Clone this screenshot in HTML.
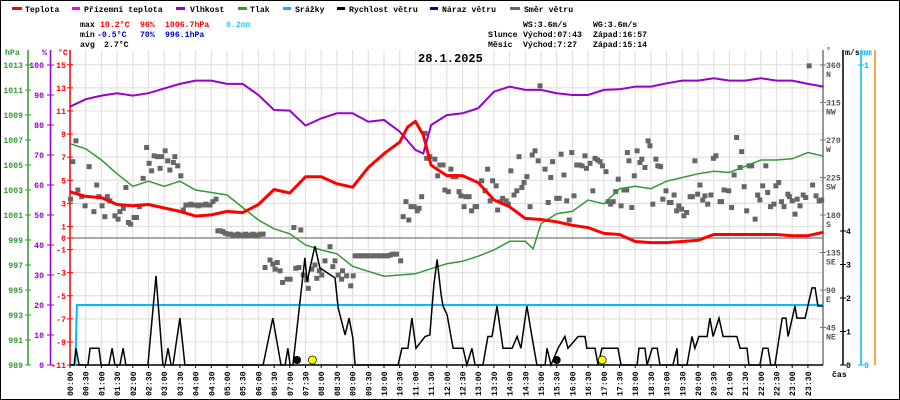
<!DOCTYPE html>
<html><head><meta charset="utf-8">
<style>
html,body{margin:0;padding:0;background:#fff;}
#wrap{position:relative;width:900px;height:400px;overflow:hidden;}
svg{display:block;}
text{font-family:"Liberation Mono",monospace;}
</style></head>
<body>
<div id="wrap">
<svg id="chart" width="900" height="400" viewBox="0 0 900 400" xmlns="http://www.w3.org/2000/svg">
  <rect x="0.5" y="0.5" width="899" height="399" fill="#fff" stroke="#000"/>
  <g id="grid"></g>
  <g id="axes"></g>
  <g id="series"></g>
  <g id="legend" font-size="8.2" font-weight="bold">
    <rect x="12" y="7" width="10" height="3" fill="#f00"/>
    <text x="25" y="12">Teplota</text>
    <rect x="72" y="7" width="8" height="3" fill="#f0f"/>
    <text x="84" y="12">Přízemní teplota</text>
    <rect x="176" y="7" width="9" height="3" fill="#90c"/>
    <text x="190" y="12">Vlhkost</text>
    <rect x="238" y="7" width="9" height="3" fill="#393"/>
    <text x="250" y="12">Tlak</text>
    <rect x="283" y="7" width="8" height="3" fill="#0bf"/>
    <text x="295" y="12">Srážky</text>
    <rect x="337" y="7" width="8" height="3" fill="#000"/>
    <text x="349" y="12">Rychlost větru</text>
    <rect x="430" y="7" width="8" height="3" fill="#00c"/>
    <text x="442" y="12">Náraz větru</text>
    <rect x="510" y="7" width="10" height="3" fill="#666"/>
    <text x="524" y="12">Směr větru</text>
  </g>
  <g id="stats" font-size="8.2" font-weight="bold">
    <text x="80" y="27">max</text>
    <text x="100" y="27" fill="#f00">10.2°C</text>
    <text x="140" y="27" fill="#f00">96%</text>
    <text x="165" y="27" fill="#f00">1006.7hPa</text>
    <text x="226" y="27" fill="#3cf">0.2mm</text>
    <text x="80" y="37">min</text>
    <text x="97" y="37" fill="#00c">-0.5°C</text>
    <text x="140" y="37" fill="#00c">70%</text>
    <text x="165" y="37" fill="#00c">996.1hPa</text>
    <text x="80" y="47">avg</text>
    <text x="104" y="47">2.7°C</text>
    <text x="523" y="27">WS:3.6m/s</text>
    <text x="593" y="27">WG:3.6m/s</text>
    <text x="488" y="37">Slunce</text>
    <text x="523" y="37">Východ:07:43</text>
    <text x="593" y="37">Západ:16:57</text>
    <text x="488" y="47">Měsíc</text>
    <text x="523" y="47">Východ:7:27</text>
    <text x="593" y="47">Západ:15:14</text>
  </g>
  <text x="418" y="62" font-size="12" font-weight="bold">28.1.2025</text>
</svg>
</div>
<script>
// ---- data ----
var hourTicks = ["00:00","00:30","01:00","01:30","02:00","02:30","03:00","03:30","04:00","04:30","05:00","05:30","06:00","06:30","07:00","07:30","08:00","08:30","09:00","09:30","10:00","10:30","11:00","11:30","12:00","12:30","13:00","13:30","14:00","14:30","15:00","15:30","16:00","16:30","17:00","17:30","18:00","18:30","19:00","19:30","20:00","20:30","21:00","21:30","22:00","22:30","23:00","23:30"];
var tempTicks = [15,13,11,9,7,5,3,1,0,-1,-3,-5,-7,-9,-11];
var humTicks = [100,90,80,70,60,50,40,30,20,10,0];
var pressTicks = [1013,1011,1009,1007,1005,1003,1001,999,997,995,993,991,989];
var dirTicks = [360,315,270,225,180,135,90,45];
var dirNames = ["N","NW","W","SW","S","SE","E","NE"];
var windTicks = [0,1,2,3,4];
var mmTicks = [0,1];

var halfHours = [0,0.5,1,1.5,2,2.5,3,3.5,4,4.5,5,5.5,6,6.5,7,7.5,8,8.5,9,9.5,10,10.5,11,11.5,12,12.5,13,13.5,14,14.5,15,15.5,16,16.5,17,17.5,18,18.5,19,19.5,20,20.5,21,21.5,22,22.5,23,23.5,24];

var tempT = [0,0.5,1,1.5,2,2.5,3,3.5,4,4.5,5,5.5,6,6.5,7,7.5,8,8.5,9,9.5,10,10.5,10.75,11,11.25,11.5,12,12.5,13,13.5,14,14.5,15,15.5,16,16.5,17,17.5,18,18.5,19,19.5,20,20.5,21,21.5,22,22.5,23,23.5,24];
var tempV = [4.0,3.6,3.5,2.9,2.8,2.9,2.6,2.3,1.9,2.0,2.3,2.2,2.9,4.2,3.9,5.3,5.3,4.7,4.4,6.1,7.3,8.3,9.6,10.1,8.9,6.3,5.4,5.4,4.8,3.3,2.7,1.7,1.6,1.4,1.1,0.9,0.4,0.3,-0.3,-0.4,-0.4,-0.3,-0.2,0.3,0.3,0.3,0.3,0.3,0.2,0.2,0.5];

var humT = [0,0.5,1,1.5,2,2.5,3,3.5,4,4.5,5,5.5,6,6.5,7,7.5,8,8.5,9,9.5,10,10.5,11,11.25,11.5,12,12.5,13,13.5,14,14.5,15,15.5,16,16.5,17,17.5,18,18.5,19,19.5,20,20.5,21,21.5,22,22.5,23,23.5,24];
var humV = [86.1,88.6,89.8,90.6,89.8,90.6,92.2,93.7,94.8,94.8,93.7,93.7,90,85,84.8,79.8,82.2,83.9,83.9,81.1,81.7,77.8,71.7,70.5,80,83.3,83.9,85.6,91.1,92.8,91.7,91.7,90.6,90,90,91.7,91.9,92.8,92.8,93.9,94.8,94.8,95.6,94.8,94.8,95.6,94.8,94.8,93.7,92.8];

var pressT = [0,0.5,1,1.5,2,2.5,3,3.5,4,4.5,5,5.5,6,6.5,7,7.5,8,8.5,9,9.5,10,10.5,11,11.5,12,12.5,13,13.5,14,14.5,14.75,15,15.5,16,16.5,17,17.5,18,18.5,19,19.5,20,20.5,21,21.5,22,22.5,23,23.5,24];
var pressV = [1006.7,1006.3,1005.4,1004.3,1003.3,1003.7,1003.3,1003.7,1003.0,1002.8,1002.6,1001.6,1000.6,999.9,999.5,998.6,998.2,997.9,996.9,996.5,996.1,996.2,996.3,996.7,997.1,997.3,997.7,998.2,998.9,998.9,998.3,1000.3,1001.1,1001.3,1002.2,1001.9,1003.1,1003.3,1003.1,1003.7,1004.0,1004.3,1004.5,1004.4,1004.9,1005.4,1005.4,1005.5,1006.0,1005.7];

var precipT = [0,0.17,0.22,24];
var precipV = [0,0,0.2,0.2];

var windT = [0,0.13,0.19,0.29,0.57,0.64,0.92,0.99,1.24,1.34,1.43,1.59,1.69,1.78,2.48,2.74,2.96,3.03,3.12,3.22,3.28,3.5,3.66,6.15,6.46,6.72,6.85,6.94,7.01,7.1,7.48,7.55,7.8,7.96,8.28,8.44,8.54,8.76,8.89,9.01,9.08,10.45,10.57,10.76,10.89,11.02,11.31,11.46,11.59,11.69,11.82,11.88,12.01,12.2,12.52,12.64,12.8,12.9,13.15,13.31,13.44,13.6,13.79,14.08,14.24,14.36,14.55,14.71,14.87,15.13,15.19,15.32,15.54,15.76,15.86,16.18,16.4,16.46,16.72,16.82,16.94,17.45,17.55,18.06,18.12,18.31,18.38,18.54,18.7,18.79,19.2,19.33,19.36,19.65,19.81,19.9,20.03,20.29,20.38,20.48,20.67,20.8,21.24,21.34,21.56,21.62,21.97,22.07,22.23,22.32,22.45,22.68,22.8,22.87,23.09,23.15,23.41,23.63,23.73,23.82,23.98];
var windV = [0,0,0.5,0,0,0.5,0.5,0,0,0.5,0,0,0.5,0,0,2.66,0,0,0.5,0,0,1.4,0,0,1.4,0,0,0.5,0,0,3.2,2.5,3.55,2.9,2.7,2.6,1.7,0.9,1.4,0.8,0,0,0.5,0.5,1.4,0.5,0.85,0.9,2.4,3.15,2.1,1.76,1.5,0.5,0.5,0,0.5,0,0,0.85,0.85,1.76,0.5,0.5,0.85,0.5,1.76,0.85,0,0,0.5,0,0.5,0.85,0.5,0.85,0.85,0.5,0.5,0,0.5,0.5,0,0,0.5,0.5,0,0.5,0.5,0,0,0.5,0,0,0.85,0.5,0.85,0.85,1.4,0.85,1.4,0.85,0.85,0.5,0.5,0,0,0.5,0.5,0,0,1.4,1.4,0.85,1.76,1.4,1.4,2.3,2.3,1.76,1.76];

var dirT = [0.02,0.09,0.19,0.25,0.37,0.48,0.61,0.76,0.85,0.92,1.02,1.11,1.19,1.27,1.43,1.53,1.59,1.70,1.78,1.86,1.93,2.04,2.12,2.21,2.33,2.44,2.52,2.60,2.68,2.79,2.87,2.92,3.03,3.11,3.18,3.29,3.34,3.43,3.53,3.61,
3.69,3.77,3.85,3.93,4.01,4.09,4.17,4.25,4.33,4.41,4.46,4.55,4.65,
4.71,4.79,4.87,4.95,5.03,5.11,5.19,5.27,5.35,5.43,5.51,5.59,5.67,5.75,5.83,5.91,5.99,6.07,6.15,
6.21,6.37,6.46,6.53,6.60,6.69,6.77,6.91,7.01,7.13,7.19,7.29,7.35,7.43,7.54,7.59,7.70,7.80,7.86,7.94,8.02,8.12,8.28,8.37,8.44,8.54,8.65,8.68,8.81,8.94,9.02,
9.08,9.16,9.24,9.32,9.40,9.48,9.56,9.64,9.72,9.80,9.88,9.96,10.04,10.12,10.20,10.28,10.40,10.53,
10.61,10.70,10.79,10.86,10.96,11.06,11.12,11.20,11.31,11.36,11.46,11.62,11.71,11.78,11.88,11.94,12.05,12.13,12.20,12.29,12.39,12.45,12.55,12.61,12.71,12.79,12.90,12.95,13.11,13.22,13.30,13.38,13.46,13.57,13.62,13.72,13.78,13.89,13.96,14.04,14.14,14.23,14.30,14.39,14.46,14.55,14.65,14.72,14.81,14.91,14.97,15.13,15.23,15.31,15.37,15.50,15.58,15.64,15.73,15.82,15.90,
15.98,16.05,16.14,16.22,16.31,16.40,16.45,16.56,16.65,16.72,16.80,16.88,16.96,17.07,17.14,17.22,17.30,17.38,17.46,17.55,17.64,17.73,17.75,17.80,17.89,17.97,18.06,18.15,18.21,18.31,18.41,18.47,18.56,18.66,18.72,18.81,18.88,18.98,19.09,19.14,19.24,19.32,19.39,19.48,19.55,19.64,19.75,19.82,19.90,19.99,20.06,20.15,20.22,20.31,20.41,20.49,20.57,20.70,20.75,20.83,20.98,21.07,21.15,21.23,21.34,21.39,21.47,21.55,21.63,21.71,21.82,21.90,21.97,22.06,22.16,22.22,22.31,22.42,22.48,22.57,22.66,22.74,22.86,22.91,23.00,23.09,23.16,23.25,23.35,23.43,23.54,23.65,23.76,23.86,23.94];
var dirDeg = [199,244,269,210,202,191,238,184,216,202,191,178,202,197,179,175,184,188,213,171,169,177,177,190,224,261,242,233,251,250,236,250,257,245,234,243,250,239,227,186,
192,192,193,192,192,191,192,192,193,192,192,196,199,
161,161,160,158,157,157,156,156,157,156,156,157,156,156,157,156,156,157,157,
117,126,121,115,123,113,99,103,103,165,116,117,162,108,102,92,115,120,104,113,108,125,142,118,125,108,103,113,107,95,107,
131,131,131,131,131,131,131,131,131,131,131,131,131,131,132,133,133,125,
178,196,174,190,190,185,188,202,278,248,250,247,227,240,240,210,208,235,226,226,208,203,190,202,202,185,190,190,221,209,235,197,221,215,186,196,200,197,193,233,204,209,250,213,219,226,190,252,257,245,335,235,195,225,244,200,200,253,228,197,174,
255,203,240,240,239,251,236,242,209,248,246,244,239,232,196,193,196,208,223,191,210,210,255,245,189,227,257,243,247,237,269,263,193,247,239,238,199,209,195,195,204,185,191,187,179,183,202,202,245,205,216,198,203,193,204,248,251,196,196,210,209,189,228,273,237,256,214,185,239,239,175,204,198,215,239,207,190,193,215,219,196,190,205,202,197,181,199,191,204,201,359,216,203,197,198];

var sunMarkers = [7.72,16.95];
var moonMarkers = [7.23,15.5];

// ---- scales ----
function xS(h){ return 70 + h*31.4; }
function yTemp(t){ return 238 - t*11.55; }
function yHum(v){ return 365 - v*3; }
function yPress(p){ return 365 - (p-989)*12.5; }
function yWind(v){ return 365 - v*33.5; }
function yDir(d){ return 365 - d*300/360; }
function yMm(m){ return 365 - m*300; }

var NS = "http://www.w3.org/2000/svg";
function mk(tag, attrs, parent){
  var e = document.createElementNS(NS, tag);
  for (var k in attrs) e.setAttribute(k, attrs[k]);
  parent.appendChild(e);
  return e;
}
var grid = document.getElementById('grid');
var axes = document.getElementById('axes');
var series = document.getElementById('series');

// vertical grid + x labels
hourTicks.forEach(function(lbl, i){
  var x = xS(i*0.5);
  var ln = mk('line', {x1:x, y1:50, x2:x, y2:365, stroke:'#e4e0e0', 'stroke-width':1.2}, grid);
  
  
  var tk = mk('line', {x1:x, y1:365, x2:x, y2:368, stroke:'#000', 'stroke-width':1}, axes);
  
  
  var t = mk('text', {x:0, y:0, 'font-size':'8.2', 'font-weight':'bold', transform:'translate('+(x+3)+',396) rotate(-90)'}, axes);
  t.textContent = lbl;
  
  
});
// horizontal grid + temp labels
tempTicks.forEach(function(v){
  var y = yTemp(v);
  if (v !== 0 && v !== -11) {
    var g = mk('line', {x1:70, y1:y, x2:823, y2:y, stroke:'#e4e0e0', 'stroke-width':1.2}, grid);
    
    
  }
  var tk = mk('line', {x1:67, y1:y, x2:73, y2:y, stroke:'#f00'}, axes);
  
  
  var t = mk('text', {x:66, y:y+3, 'font-size':'8.2', 'font-weight':'bold', fill:'#f00', 'text-anchor':'end'}, axes);
  t.textContent = v;
  
  
});
var zl = mk('line', {x1:70, y1:yTemp(0), x2:823, y2:yTemp(0), stroke:'#777', 'stroke-width':1.3}, grid);


humTicks.forEach(function(v){
  var y = yHum(v);
  var tk = mk('line', {x1:47, y1:y, x2:54, y2:y, stroke:'#90c'}, axes);
  
  
  var t = mk('text', {x:44, y:y+3, 'font-size':'8.2', 'font-weight':'bold', fill:'#90c', 'text-anchor':'end'}, axes);
  t.textContent = v;
  
  
});
pressTicks.forEach(function(v){
  var y = yPress(v);
  var tk = mk('line', {x1:25, y1:y, x2:31, y2:y, stroke:'#393'}, axes);
  
  
  var t = mk('text', {x:23, y:y+3, 'font-size':'8.2', 'font-weight':'bold', fill:'#393', 'text-anchor':'end'}, axes);
  t.textContent = v;
  
  
});
dirTicks.forEach(function(v, i){
  var y = yDir(v);
  var tk = mk('line', {x1:820, y1:y, x2:826, y2:y, stroke:'#777'}, axes);
  
  
  var t = mk('text', {x:826, y:y+3, 'font-size':'8.2', 'font-weight':'bold', fill:'#555'}, axes);
  t.textContent = v;
  
  
  var n = mk('text', {x:826, y:y+12, 'font-size':'8.2', 'font-weight':'bold', fill:'#555'}, axes);
  n.textContent = dirNames[i];
  
  
});
windTicks.forEach(function(v){
  var y = yWind(v);
  var tk = mk('line', {x1:840, y1:y, x2:846, y2:y, stroke:'#000'}, axes);
  
  
  var t = mk('text', {x:846, y:y+3, 'font-size':'8.2', 'font-weight':'bold'}, axes);
  t.textContent = v;
  
  
});
mmTicks.forEach(function(v){
  var y = yMm(v);
  var tk = mk('line', {x1:858, y1:y, x2:864, y2:y, stroke:'#0bf'}, axes);
  
  
  var t = mk('text', {x:864, y:y+3, 'font-size':'8.2', 'font-weight':'bold', fill:'#0bf'}, axes);
  t.textContent = v;
  
  
});
// axis lines
[[28,'#393','pressure-axis'],[50.5,'#90c','humidity-axis'],[70,'#f00','temp-axis'],[823,'#777','direction-axis'],[843,'#000','wind-axis'],[861,'#0bf','precip-axis'],[875,'#f80','orange-axis']].forEach(function(a){
  var l = mk('line', {x1:a[0], y1:50, x2:a[0], y2:365, stroke:a[1], 'stroke-width':1.5}, axes);
  
  
});
var bx = mk('line', {x1:70, y1:365, x2:823, y2:365, stroke:'#000', 'stroke-width':1.5}, axes);


[['hPa',5,55,'#393','pressure-unit'],['%',42,55,'#90c','humidity-unit'],['°C',58,55,'#f00','temp-unit'],['°',826,53,'#555','direction-unit'],['m/s',845,55,'#000','wind-unit'],['mm',862,55,'#0bf','precip-unit'],['čas',832,377,'#000','time-unit']].forEach(function(u){
  var t = mk('text', {x:u[1], y:u[2], 'font-size':'8.2', 'font-weight':'bold', fill:u[3]}, axes);
  t.textContent = u[0];
  
  
});

function pts(T, V, fy){ return T.map(function(t,i){ return xS(t).toFixed(1)+','+fy(V[i]).toFixed(1); }).join(' '); }

// wind direction squares
dirT.forEach(function(t, i){
  var r = mk('rect', {x:xS(t)-2.5, y:yDir(dirDeg[i])-2.5, width:5, height:5, fill:'#666'}, series);
  
  
});
var pP = mk('polyline', {points:pts(precipT, precipV, yMm), fill:'none', stroke:'#0bf', 'stroke-width':2}, series);


var hP = mk('polyline', {points:pts(humT, humV, yHum), fill:'none', stroke:'#90c', 'stroke-width':2}, series);


var prP = mk('polyline', {points:pts(pressT, pressV, yPress), fill:'none', stroke:'#393', 'stroke-width':1.5}, series);


var wP = mk('polyline', {points:pts(windT, windV, yWind), fill:'none', stroke:'#000', 'stroke-width':1.5}, series);


var tP = mk('polyline', {points:pts(tempT, tempV, yTemp), fill:'none', stroke:'#f00', 'stroke-width':3, 'stroke-linejoin':'round'}, series);


moonMarkers.forEach(function(h){
  var c = mk('circle', {cx:xS(h), cy:360, r:4, fill:'#000'}, series);
  
  
});
sunMarkers.forEach(function(h){
  var c = mk('circle', {cx:xS(h), cy:360, r:4, fill:'#ff0', stroke:'#000', 'stroke-width':0.7}, series);
  
  
});
</script>
</body></html>
